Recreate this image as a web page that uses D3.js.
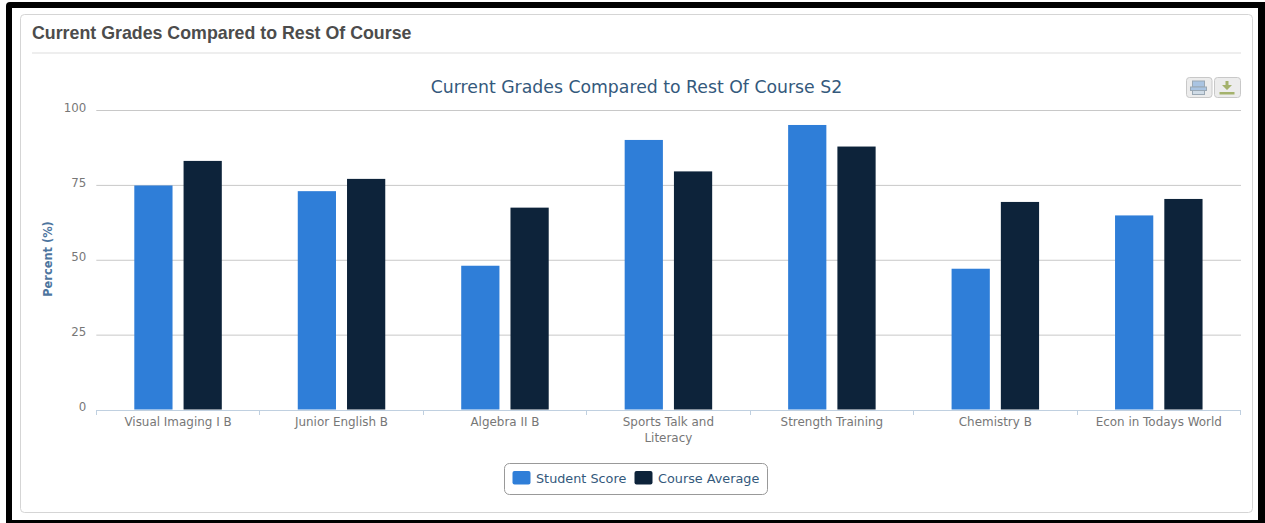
<!DOCTYPE html>
<html><head><meta charset="utf-8">
<script src="https://cdn.jsdelivr.net/npm/d3@7"></script>
<style>html,body{margin:0;padding:0;background:#fff;overflow:hidden}svg{display:block}</style>
</head><body><svg id="c" width="1265" height="523"></svg>
<script>
const categories=["Visual Imaging I B","Junior English B","Algebra II B","Sports Talk and|Literacy","Strength Training","Chemistry B","Econ in Todays World"];
const studentScore=[74.8,72.9,48,90,95,47,64.8];
const courseAverage=[83,77,67.4,79.5,87.8,69.3,70.3];
const yTicks=[0,25,50,75,100];
const seriesNames=["Student Score","Course Average"];
const seriesColors=["#2f7ed8","#0d233a"];
const F="'DejaVu Sans',sans-serif";
const svg=d3.select("#c");
svg.append("rect").attr("x",0).attr("y",0).attr("width",1265).attr("height",523).attr("fill","#fff");
svg.append("path").attr("d","M1265 2H10Q6 2 6 6V523H1265Z").attr("fill","#000");
svg.append("rect").attr("x",12).attr("y",8).attr("width",1246).attr("height",512).attr("fill","#fff");
svg.append("rect").attr("x",20.5).attr("y",14.5).attr("width",1232).attr("height",498).attr("rx",4).attr("fill","#fff").attr("stroke","#d5d5d5");
svg.append("text").attr("x",32).attr("y",38.5).attr("font-family","'Liberation Sans',sans-serif").attr("font-weight",700).attr("font-size",17.8).attr("fill","#4c4c4c").text("Current Grades Compared to Rest Of Course");
svg.append("line").attr("x1",32).attr("x2",1241).attr("y1",53).attr("y2",53).attr("stroke","#ddd");
svg.append("text").attr("x",636.5).attr("y",92.5).attr("text-anchor","middle").attr("font-family",F).attr("font-size",17.3).attr("fill","#34597c").text("Current Grades Compared to Rest Of Course S2");

const L=96.3,R=1240.5,T=110,B=410;
const y=d3.scaleLinear().domain([0,100]).range([B-.5,T]);
const x=d3.scaleBand().domain(categories).range([L,R]);
const x1=d3.scaleBand().domain([0,1]).range([38,125.5]).paddingInner(0.224);

const gy=svg.append("g").attr("transform",`translate(${L},0)`).call(d3.axisLeft(y).tickValues(yTicks).tickSize(-(1241-L)).tickPadding(10));
gy.select(".domain").remove();
gy.selectAll(".tick line").attr("stroke","#c8c8c8").filter(d=>d===0).remove();
gy.selectAll(".tick text").attr("font-family",F).attr("font-size",11.8).attr("fill","#777").attr("dy","0.1em");

svg.append("text").attr("transform","translate(52,259) rotate(-90)").attr("text-anchor","middle").attr("font-family",F).attr("font-weight",700).attr("font-size",11.4).attr("fill","#4d759e").text("Percent (%)");

[studentScore,courseAverage].forEach((vals,s)=>{
  svg.append("g").selectAll("rect").data(vals).join("rect")
    .attr("x",(d,i)=>x(categories[i])+x1(s)).attr("width",x1.bandwidth())
    .attr("y",d=>y(d)).attr("height",d=>y(0)-y(d)).attr("fill",seriesColors[s]);
});

svg.append("line").attr("x1",L).attr("x2",R).attr("y1",B+.5).attr("y2",B+.5).attr("stroke","#c0d0e0");
const edges=categories.map(c=>x(c)).concat([R]);
svg.append("g").selectAll("line").data(edges).join("line").attr("x1",d=>Math.floor(d)+.5).attr("x2",d=>Math.floor(d)+.5).attr("y1",B).attr("y2",B+5).attr("stroke","#c0d0e0");
categories.forEach(c=>{
  const t=svg.append("text").attr("text-anchor","middle").attr("font-family",F).attr("font-size",11.95).attr("fill","#777");
  c.split("|").forEach((ln,i)=>t.append("tspan").attr("x",x(c)+x.bandwidth()/2).attr("y",426+i*15.5).text(ln));
});

// legend
svg.append("rect").attr("x",504.5).attr("y",463.5).attr("width",263).attr("height",31).attr("rx",5).attr("fill","#fff").attr("stroke","#999");
const lx=[512.5,634.5],tx=[536,658];
seriesNames.forEach((n,i)=>{
  svg.append("rect").attr("x",lx[i]).attr("y",471).attr("width",18).attr("height",13.5).attr("rx",2).attr("fill",seriesColors[i]);
  svg.append("text").attr("x",tx[i]).attr("y",483).attr("font-family",F).attr("font-size",12.8).attr("fill","#34597c").text(n);
});

// export buttons
const btn=(bx,w,draw)=>{
  svg.append("rect").attr("x",bx+.5).attr("y",77.5).attr("width",w).attr("height",20).attr("rx",3).attr("fill","#ececec").attr("stroke","#c8c8c8");
  draw(bx);
};
btn(1186,25.5,b=>{
  svg.append("rect").attr("x",b+6.5).attr("y",81).attr("width",12).attr("height",6).attr("fill","#a9c4e2").attr("stroke","#9aa8b4");
  svg.append("rect").attr("x",b+4.5).attr("y",87).attr("width",16).attr("height",3.5).attr("fill","#a9c4e2").attr("stroke","#9aa8b4");
  svg.append("rect").attr("x",b+6.5).attr("y",90.5).attr("width",12).attr("height",4).attr("fill","#cfdbe6").attr("stroke","#9aa8b4");
});
btn(1214,26,b=>{
  svg.append("path").attr("d",`M${b+11.5} 81h3v4h3.5l-5 5l-5 -5h3.5z`).attr("fill","#a4b26c");
  svg.append("rect").attr("x",b+5.5).attr("y",92).attr("width",15).attr("height",2.5).attr("fill","#a4b26c");
});
</script></body></html>
